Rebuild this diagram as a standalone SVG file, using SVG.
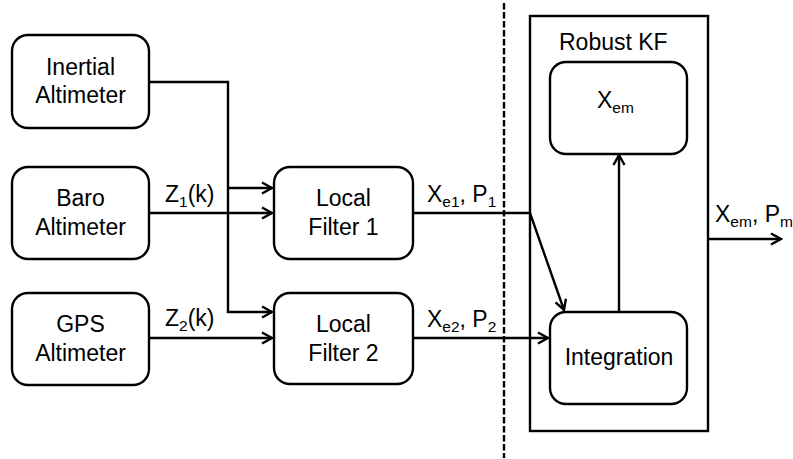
<svg xmlns="http://www.w3.org/2000/svg" width="793" height="459" viewBox="0 0 793 459">
<defs>
<style>
.box{fill:#fff;stroke:#000;stroke-width:2.4}
.t{font-family:"Liberation Sans",Arial,sans-serif;font-size:23px;fill:#000}
.c{text-anchor:middle}
.sub{font-size:15.5px}
.ln{fill:none;stroke:#000;stroke-width:2.4}
</style>
<marker id="ah" markerUnits="userSpaceOnUse" markerWidth="14" markerHeight="14" viewBox="-12 -7 14 14" refX="0" refY="0" orient="auto">
<path d="M-10,-5.5 L0,0 L-10,5.5" fill="none" stroke="#000" stroke-width="2.4"/>
</marker>
</defs>
<rect width="793" height="459" fill="#fff"/>
<g id="connectors">
<path class="ln" d="M149,82 H228 V312 H272" marker-end="url(#ah)"/>
<path class="ln" d="M228,188 H272" marker-end="url(#ah)"/>
<path class="ln" d="M149,213 H272" marker-end="url(#ah)"/>
<path class="ln" d="M149,338 H272" marker-end="url(#ah)"/>
<path class="ln" d="M413,213 H530 L564,310" marker-end="url(#ah)"/>
<path class="ln" d="M413,338 H548" marker-end="url(#ah)"/>
<path class="ln" d="M619,312 V155" marker-end="url(#ah)"/>
<path class="ln" d="M708,239 H781" marker-end="url(#ah)"/>
<line x1="504" y1="3" x2="504" y2="458" stroke="#000" stroke-width="2.4" stroke-dasharray="6.5,2.5"/>
</g>
<g id="inertial">
<rect class="box" x="12" y="35" width="137" height="93" rx="16"/>
<text class="t c" x="80.5" y="75">Inertial</text>
<text class="t c" x="80.5" y="103">Altimeter</text>
</g>
<g id="baro">
<rect class="box" x="12" y="167" width="137" height="92" rx="16"/>
<text class="t c" x="80.5" y="206">Baro</text>
<text class="t c" x="80.5" y="235">Altimeter</text>
</g>
<g id="gps">
<rect class="box" x="12" y="293" width="137" height="92" rx="16"/>
<text class="t c" x="80.5" y="332">GPS</text>
<text class="t c" x="80.5" y="361">Altimeter</text>
</g>
<g id="lf1">
<rect class="box" x="274" y="167" width="139" height="92" rx="16"/>
<text class="t c" x="343.5" y="206">Local</text>
<text class="t c" x="343.5" y="235">Filter 1</text>
</g>
<g id="lf2">
<rect class="box" x="274" y="293" width="139" height="91" rx="16"/>
<text class="t c" x="343.5" y="332">Local</text>
<text class="t c" x="343.5" y="361">Filter 2</text>
</g>
<g id="robust">
<rect x="530" y="16" width="178" height="415" fill="none" stroke="#000" stroke-width="2.4"/>
<text class="t" x="559" y="50">Robust KF</text>
</g>
<g id="xem">
<rect class="box" x="550" y="62" width="137" height="92" rx="16"/>
<text class="t" x="597" y="108">X<tspan class="sub" dy="5">em</tspan></text>
</g>
<g id="integration">
<rect class="box" x="550" y="312" width="137" height="92" rx="16"/>
<text class="t c" x="619" y="365">Integration</text>
</g>
<g id="labels">
<text class="t" x="165" y="202">Z<tspan class="sub" dy="5">1</tspan><tspan dy="-5">(k)</tspan></text>
<text class="t" x="165" y="326">Z<tspan class="sub" dy="5">2</tspan><tspan dy="-5">(k)</tspan></text>
<text class="t" x="427" y="202">X<tspan class="sub" dy="5">e1</tspan><tspan dy="-5">, P</tspan><tspan class="sub" dy="5">1</tspan></text>
<text class="t" x="427" y="327">X<tspan class="sub" dy="5">e2</tspan><tspan dy="-5">, P</tspan><tspan class="sub" dy="5">2</tspan></text>
<text class="t" x="715" y="222">X<tspan class="sub" dy="5">em</tspan><tspan dy="-5">, P</tspan><tspan class="sub" dy="5">m</tspan></text>
</g>
</svg>
